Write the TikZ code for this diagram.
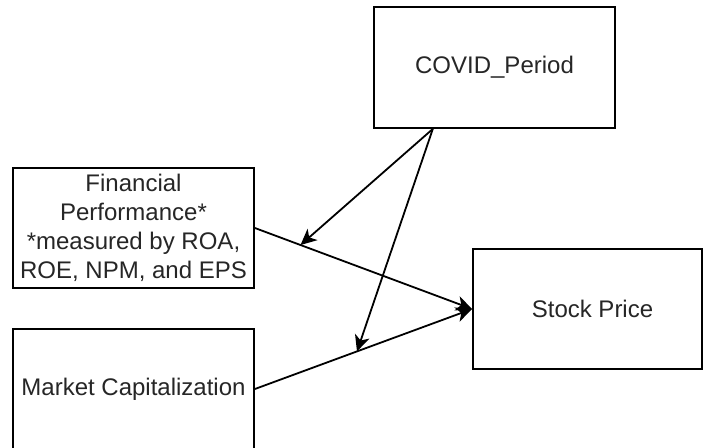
\documentclass[tikz,border=0pt]{standalone}
\usepackage{fontspec}
\setmainfont{Liberation Sans}
\usetikzlibrary{arrows.meta,calc}
\begin{document}
\begin{tikzpicture}[x=1pt,y=-1pt,
  box/.style={draw=black,line width=1.8pt,fill=white,rectangle,inner sep=0pt,
    minimum width=241pt,minimum height=120pt,align=center,
    font=\fontsize{24}{28.8}\selectfont,text=black!85},
  conn/.style={draw=black,line width=1.8pt,
    -{Stealth[length=16pt,width=15pt,inset=4.5pt]}}]
\path[use as bounding box,clip] (0,0) rectangle (703,447);
\fill[white] (0,0) rectangle (703,447);
\node[box,minimum height=121pt] (covid) at (494.5,67.5) {COVID\_Period};
\node[box] (fin) at (133.5,228) {Financial\\Performance*\\*measured by ROA,\\ROE, NPM, and EPS};
\node[box] (mkt) at (133.5,389) {Market Capitalization};
\node[box,minimum width=229pt] (stock) at (587.5,309) {\hspace{10pt}Stock Price};
\coordinate (src) at ($(covid.south west)!0.246!(covid.south east)$);
\coordinate (t1) at ($(fin.east)!0.21!(stock.west)$);
\coordinate (t2) at ($(mkt.east)!0.47!(stock.west)$);
\draw[conn] (fin.east) -- (stock.west);
\draw[conn] (mkt.east) -- (stock.west);
\draw[conn] (src) -- (t1);
\draw[conn] (src) -- (t2);
\end{tikzpicture}
\end{document}
